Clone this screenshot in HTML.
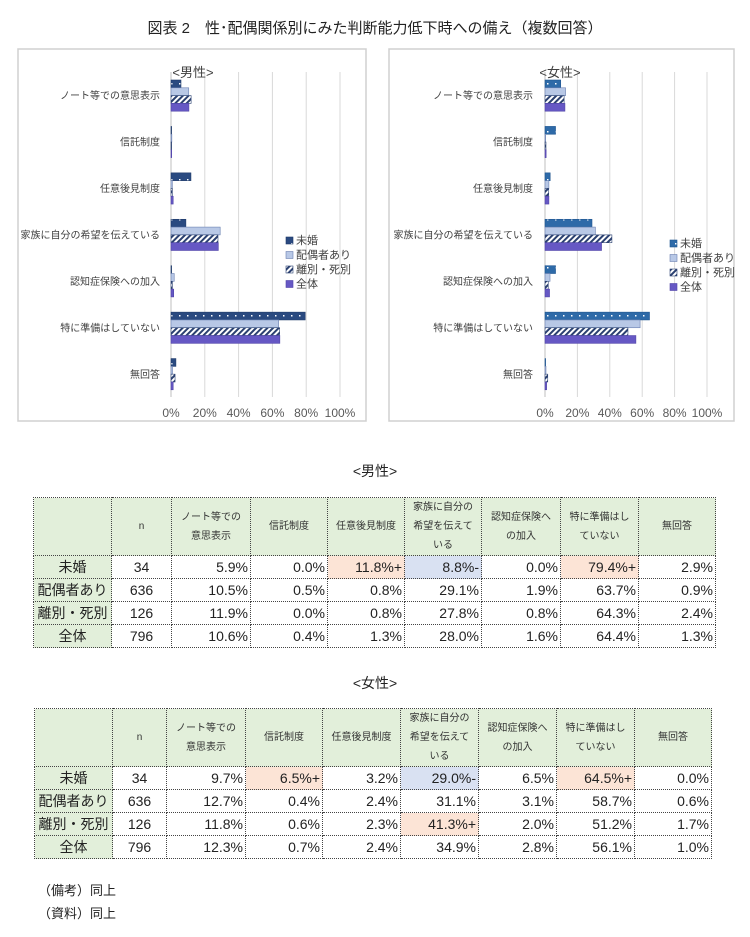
<!DOCTYPE html>
<html><head><meta charset="utf-8">
<style>
body{margin:0;background:#fff;width:750px;height:937px;position:relative;overflow:hidden;font-family:"Liberation Sans","Noto Sans CJK JP",sans-serif;color:#222}
.t{position:absolute;border-collapse:collapse;table-layout:fixed}
.t td{border:1px dotted #444;padding:0 2px;font-size:14px;height:22px;text-align:right;white-space:nowrap}
.t tr.h td{background:#e2efda;font-size:10px;text-align:center;line-height:19px;height:57px;color:#333}
.t td.l{background:#e2efda;text-align:center;font-size:14px}
.t td.n{text-align:center}
.o{background:#fce4d6}.b{background:#d9e1f2}
.abs{position:absolute}
</style></head><body>
<div class="abs" style="left:0;width:750px;top:17px;text-align:center;font-size:15px">図表 2　性･配偶関係別にみた判断能力低下時への備え（複数回答）</div>
<svg class="abs" style="left:0;top:0" width="750" height="440" id="charts">
<defs>
<pattern id="dots1" width="8" height="8" patternUnits="userSpaceOnUse"><rect width="8" height="8" fill="#2a4a80"/><rect x="3" y="3" width="1.5" height="1.5" fill="#fff"/></pattern>
<pattern id="dots2" width="8" height="8" patternUnits="userSpaceOnUse"><rect width="8" height="8" fill="#2e6aa8"/><rect x="3" y="3" width="1.5" height="1.5" fill="#fff"/></pattern>
<pattern id="stripe" width="4" height="4" patternUnits="userSpaceOnUse" patternTransform="rotate(45)"><rect width="4" height="4" fill="#fff"/><rect width="2" height="4" fill="#2a4070"/></pattern>
</defs>
</svg>
<div class="abs" style="left:0;width:750px;top:461px;text-align:center;font-size:14px">&lt;男性&gt;</div>
<div class="abs" style="left:0;width:750px;top:673px;text-align:center;font-size:14px">&lt;女性&gt;</div>
<div id="tables"></div>
<div class="abs" style="left:38px;top:880px;font-size:13px">（備考）同上</div>
<div class="abs" style="left:38px;top:903px;font-size:13px">（資料）同上</div>
<script>
const categories=["ノート等での意思表示","信託制度","任意後見制度","家族に自分の希望を伝えている","認知症保険への加入","特に準備はしていない","無回答"];
const seriesNames=["未婚","配偶者あり","離別・死別","全体"];
const nValues=[34,636,126,796];
const maleMikon=[5.9,0.0,11.8,8.8,0.0,79.4,2.9];
const maleHaigu=[10.5,0.5,0.8,29.1,1.9,63.7,0.9];
const maleRibetsu=[11.9,0.0,0.8,27.8,0.8,64.3,2.4];
const maleAll=[10.6,0.4,1.3,28.0,1.6,64.4,1.3];
const femMikon=[9.7,6.5,3.2,29.0,6.5,64.5,0.0];
const femHaigu=[12.7,0.4,2.4,31.1,3.1,58.7,0.6];
const femRibetsu=[11.8,0.6,2.3,41.3,2.0,51.2,1.7];
const femAll=[12.3,0.7,2.4,34.9,2.8,56.1,1.0];
const maleMarks=[["","","o","b","","o",""],["","","","","","",""],["","","","","","",""],["","","","","","",""]];
const femMarks=[["","o","","b","","o",""],["","","","","","",""],["","","","o","","",""],["","","","","","",""]];
const maleSuffix=[["","","+","-","","+",""],["","","","","","",""],["","","","","","",""],["","","","","","",""]];
const femSuffix=[["","+","","-","","+",""],["","","","","","",""],["","","","+","","",""],["","","","","","",""]];
const xTicks=[0,20,40,60,80,100];

const NS="http://www.w3.org/2000/svg";
const svg=document.getElementById('charts');
function mk(tag,attrs,parent){const e=document.createElementNS(NS,tag);for(const k in attrs)e.setAttribute(k,attrs[k]);(parent||svg).appendChild(e);return e;}
function drawChart(cfg){
  const g=mk('g',{});
  
  
  const box=mk('rect',{x:cfg.bx,y:49,width:cfg.bw,height:372,fill:'#fff',stroke:'#d0d0d0','stroke-width':1.5},g);
  
  
  const x0=cfg.x0,x1=cfg.x1,top=72,bot=397;
  const xs=v=>x0+(x1-x0)*v/100;
  xTicks.forEach(t=>{
    const l=mk('line',{x1:xs(t),x2:xs(t),y1:top,y2:bot,stroke:'#d9d9d9','stroke-width':1},g);
    
    
    const tx=mk('text',{x:xs(t),y:417,'text-anchor':'middle','font-size':12,fill:'#595959'},g);
    tx.textContent=t+'%';
    
    
  });
  const ax=mk('line',{x1:x0,x2:x0,y1:top,y2:bot,stroke:'#bfbfbf'},g);
  
  
  const tt=mk('text',{x:cfg.titleX,y:77,'text-anchor':'middle','font-size':13,fill:'#404040'},g);
  tt.textContent=cfg.title;
  
  
  const band=(bot-top)/categories.length;
  const fills=[cfg.dots,'#b8c8e6','url(#stripe)','#6658c4'];
  const strokes=[cfg.dark,'#6a7fb0','#2a4070','#5044a8'];
  categories.forEach((c,i)=>{
    const cy=top+band*i+band/2;
    const lb=mk('text',{x:cfg.labelX,y:cy+4,'text-anchor':'end','font-size':10,fill:'#404040'},g);
    lb.textContent=c;
    
    
    cfg.series.forEach((s,j)=>{
      const h=7.8;
      const y=top+band*i+8+h*j;
      const r=mk('rect',{x:x0,y:y,width:Math.max(xs(s[i])-x0,0.6),height:h,fill:fills[j],stroke:strokes[j],'stroke-width':0.6},g);
      
      
    });
  });
  seriesNames.forEach((n,j)=>{
    const ly=cfg.ly+j*14.5;
    const r=mk('rect',{x:cfg.lx,y:ly-7,width:7,height:7,fill:fills[j],stroke:strokes[j],'stroke-width':0.6},g);
    
    
    const t=mk('text',{x:cfg.lx+10,y:ly,'font-size':11,fill:'#404040'},g);
    t.textContent=n;
    
    
  });
}
drawChart({name:'male-chart',bx:18,bw:348,x0:171,x1:340,title:'<男性>',titleX:193,labelX:160,lx:286,ly:244,dots:'url(#dots1)',dark:'#1f3a6a',series:[maleMikon,maleHaigu,maleRibetsu,maleAll]});
drawChart({name:'female-chart',bx:389,bw:345,x0:545,x1:707,title:'<女性>',titleX:560,labelX:533,lx:670,ly:247,dots:'url(#dots2)',dark:'#1f5590',series:[femMikon,femHaigu,femRibetsu,femAll]});

const headers=["","n","ノート等での<br>意思表示","信託制度","任意後見制度","家族に自分の<br>希望を伝えて<br>いる","認知症保険へ<br>の加入","特に準備はし<br>ていない","無回答"];
function drawTable(name,left,top,widths,rowsData,marks,suffix){
  const t=document.createElement('table');
  t.className='t';
  
  
  t.style.left=left+'px';t.style.top=top+'px';
  t.style.width=widths.reduce((a,b)=>a+b,0)+'px';
  const cg=document.createElement('colgroup');
  widths.forEach(w=>{const c=document.createElement('col');c.style.width=w+'px';cg.appendChild(c);});
  t.appendChild(cg);
  const hr=document.createElement('tr');hr.className='h';
  headers.forEach(h=>{const td=document.createElement('td');td.innerHTML=h;
    
    
    hr.appendChild(td);});
  t.appendChild(hr);
  seriesNames.forEach((s,r)=>{
    const tr=document.createElement('tr');
    const l=document.createElement('td');l.className='l';l.textContent=s;
    
    
    tr.appendChild(l);
    const n=document.createElement('td');n.className='n';n.textContent=nValues[r];
    
    
    tr.appendChild(n);
    rowsData[r].forEach((v,i)=>{
      const td=document.createElement('td');
      td.textContent=v.toFixed(1)+'%'+suffix[r][i];
      if(marks[r][i])td.className=marks[r][i];
      
      
      tr.appendChild(td);
    });
    t.appendChild(tr);
  });
  document.getElementById('tables').appendChild(t);
}
drawTable('male-table',33,497,[78,60,79,77,77,77,79,78,77],[maleMikon,maleHaigu,maleRibetsu,maleAll],maleMarks,maleSuffix);
drawTable('female-table',34,708,[78,54,79,77,78,78,78,78,77],[femMikon,femHaigu,femRibetsu,femAll],femMarks,femSuffix);
</script>
</body></html>
